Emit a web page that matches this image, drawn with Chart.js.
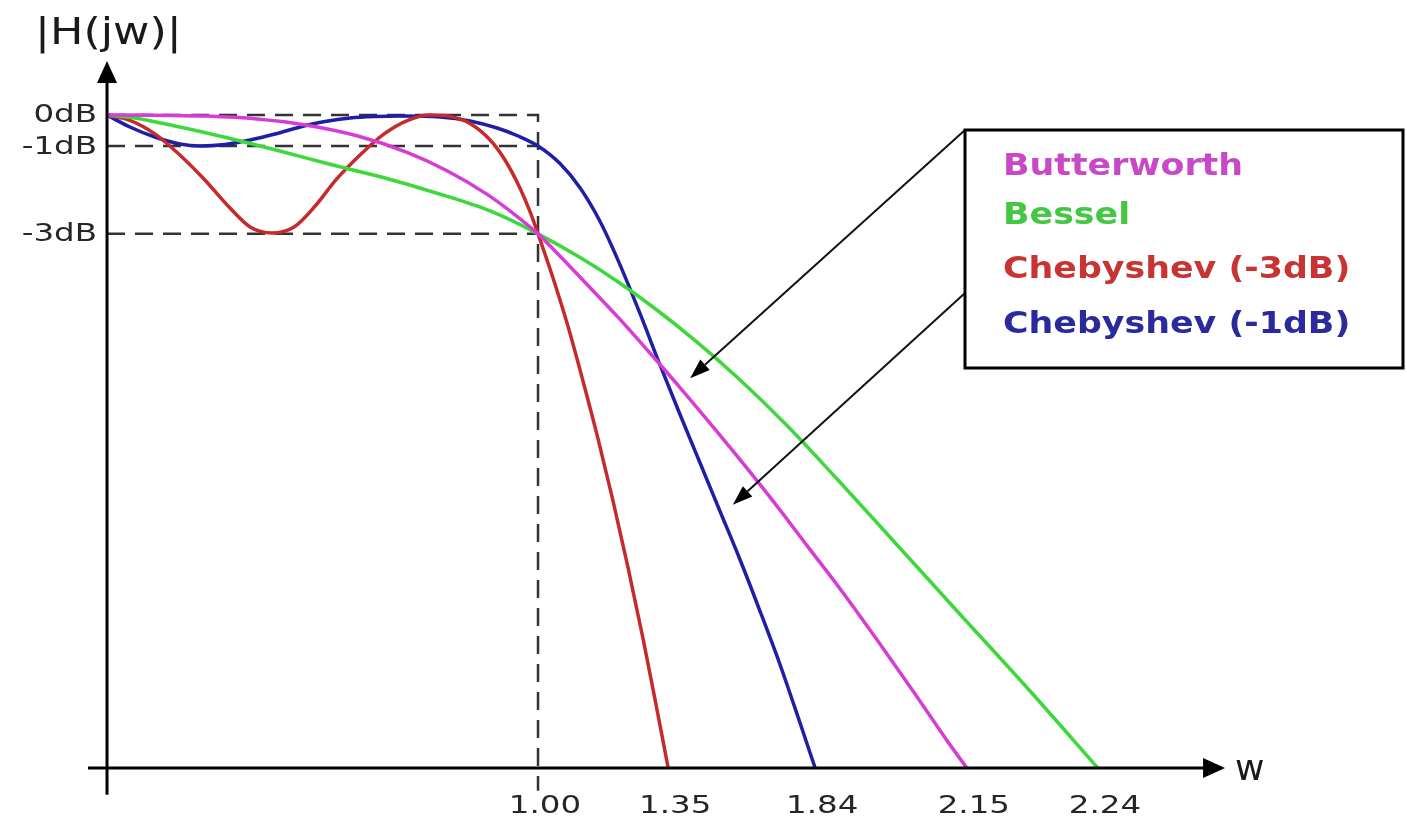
<!DOCTYPE html>
<html><head><meta charset="utf-8">
<script src="https://cdn.jsdelivr.net/npm/chart.js@4.4.1/dist/chart.umd.min.js"></script>
<style>html,body{margin:0;padding:0;background:#fff;overflow:hidden}#wrap{width:1407px;height:835px;position:relative}</style>
</head><body><div id="wrap"><canvas id="c"></canvas></div>
<script>
// ---- data (normalised frequency w, normalised magnitude |H|) ----
const wTicks = [1.000, 1.302, 1.643, 1.995, 2.299];
const wTickLabels = ['1.00', '1.35', '1.84', '2.15', '2.24'];
const magTicks = [1.0, 0.9525, 0.818];
const magTickLabels = ['0dB', '-1dB', '-3dB'];
const seriesNames = ['Butterworth', 'Bessel', 'Chebyshev (-3dB)', 'Chebyshev (-1dB)'];

const butterworth = [[0,1.0],[0.116,0.9998],[0.232,0.9983],[0.348,0.9938],[0.464,0.9844],[0.580,0.9682],[0.696,0.9429],[0.789,0.9147],[0.882,0.8784],[0.951,0.8449],[1.000,0.818],[1.058,0.779],[1.116,0.739],[1.186,0.690],[1.255,0.639],[1.325,0.586],[1.394,0.532],[1.464,0.476],[1.545,0.409],[1.626,0.339],[1.708,0.268],[1.789,0.194],[1.870,0.118],[1.951,0.040],[1.995,0]];
const bessel = [[0,1.0],[0.065,0.9954],[0.169,0.9816],[0.281,0.9648],[0.401,0.9449],[0.524,0.9234],[0.645,0.9035],[0.756,0.8821],[0.889,0.8530],[1.000,0.818],[1.093,0.7835],[1.186,0.7443],[1.278,0.7002],[1.371,0.6511],[1.464,0.5972],[1.580,0.5230],[1.696,0.4410],[1.840,0.3366],[1.979,0.2355],[2.142,0.1176],[2.299,0]];
const cheby3 = [[0,1.0],[0.053,0.9919],[0.111,0.9711],[0.169,0.9387],[0.227,0.9005],[0.281,0.8606],[0.332,0.8285],[0.383,0.8193],[0.434,0.8285],[0.483,0.8606],[0.531,0.9005],[0.587,0.9387],[0.643,0.9711],[0.698,0.9919],[0.749,1.0],[0.796,0.9979],[0.842,0.9870],[0.889,0.9617],[0.923,0.9314],[0.958,0.8882],[0.981,0.8527],[1.000,0.818],[1.035,0.7499],[1.070,0.6752],[1.104,0.5934],[1.139,0.5047],[1.174,0.4092],[1.209,0.3066],[1.244,0.1969],[1.274,0.0965],[1.302,0]];
const cheby1 = [[0,1.0],[0.053,0.9816],[0.111,0.9663],[0.169,0.9556],[0.216,0.9525],[0.274,0.9548],[0.332,0.9617],[0.390,0.9709],[0.448,0.9816],[0.506,0.9900],[0.564,0.9954],[0.622,0.9977],[0.680,0.9985],[0.773,0.9969],[0.842,0.9908],[0.905,0.9801],[0.954,0.9678],[1.000,0.9525],[1.051,0.9256],[1.097,0.8888],[1.144,0.8368],[1.190,0.7709],[1.237,0.6953],[1.283,0.6172],[1.329,0.5421],[1.376,0.4671],[1.422,0.3936],[1.469,0.3185],[1.515,0.2404],[1.561,0.1593],[1.608,0.0689],[1.643,0]];
// arrow tips pointing from the legend box (data units)
const arrowTips = [[1.353, 0.597], [1.452, 0.403]];

const seriesData = [butterworth, bessel, cheby3, cheby1];
const seriesColors = ['#d63cd6', '#3cd83c', '#c62a2a', '#1f1fa6'];
const textColors = ['#c848c8', '#44c844', '#c83434', '#2a2a9c'];

const toXY = arr => arr.map(p => ({x: p[0], y: p[1]}));

const datasets = seriesData.map((d, i) => ({
  label: seriesNames[i], data: toXY(d), borderColor: seriesColors[i],
  borderWidth: 3.5, pointRadius: 0, fill: false, cubicInterpolationMode: 'monotone', order: 1
}));
// dashed reference lines
magTicks.forEach((v, i) => {
  const pts = [{x: 0, y: v}, {x: wTicks[0], y: v}];
  if (i === 0) pts.push({x: wTicks[0], y: -0.035});
  datasets.push({label: 'ref' + i, data: pts, borderColor: '#333', borderWidth: 2.5,
    borderDash: [18, 10], pointRadius: 0, fill: false, tension: 0, order: 10, isRef: true});
});

function sText(ctx, txt, x, y, sx, align) {
  ctx.save(); ctx.translate(x, y); ctx.scale(sx, 1); ctx.textAlign = align; ctx.fillText(txt, 0, 0); ctx.restore();
}
function arrowHead(ctx, x0, y0, x1, y1, len, half) {
  const a = Math.atan2(y1 - y0, x1 - x0);
  const bx = x1 - len * Math.cos(a), by = y1 - len * Math.sin(a);
  ctx.beginPath(); ctx.moveTo(x0, y0); ctx.lineTo(bx, by); ctx.stroke();
  ctx.beginPath(); ctx.moveTo(x1, y1);
  ctx.lineTo(bx + half * Math.sin(a), by - half * Math.cos(a));
  ctx.lineTo(bx - half * Math.sin(a), by + half * Math.cos(a));
  ctx.closePath(); ctx.fill();
}

const overlay = {
  id: 'overlay',
  afterDatasetsDraw(chart) {
    const ctx = chart.ctx, xs = chart.scales.x, ys = chart.scales.y;
    const ax = xs.getPixelForValue(0), ay = ys.getPixelForValue(0);
    ctx.save();
    ctx.fillStyle = '#000'; ctx.strokeStyle = '#000'; ctx.lineWidth = 3;
    // y axis
    const yTop = ys.getPixelForValue(1.0827), yBot = ys.getPixelForValue(-0.041);
    arrowHead(ctx, ax, yBot, ax, yTop, 22, 10);
    // x axis
    const xL = xs.getPixelForValue(-0.044), xR = xs.getPixelForValue(2.594);
    arrowHead(ctx, xL, ay, xR, ay, 22, 10);
    // tick labels
    ctx.fillStyle = '#262626'; ctx.font = '25px "DejaVu Sans"'; ctx.textBaseline = 'middle';
    magTicks.forEach((v, i) => sText(ctx, magTickLabels[i], ax - 10, ys.getPixelForValue(v) + 1, 1.3, 'right'));
    wTicks.forEach((v, i) => sText(ctx, wTickLabels[i], xs.getPixelForValue(v) + 7, ay + 38, 1.3, 'center'));
    // axis titles
    ctx.fillStyle = '#1a1a1a'; ctx.textBaseline = 'alphabetic';
    ctx.font = '38px "DejaVu Sans"';
    sText(ctx, '|H(jw)|', 35, 44, 1.17, 'left');
    ctx.font = '36px "DejaVu Sans"';
    sText(ctx, 'w', xR + 10, ay + 12, 1.0, 'left');
    // legend box + arrows
    const bx = 965, by = 130, bw = 438, bh = 238;
    ctx.lineWidth = 2; ctx.fillStyle = '#000'; ctx.strokeStyle = '#111';
    const tails = [[bx, by], [bx, 293]];
    arrowTips.forEach((t, i) => arrowHead(ctx, tails[i][0], tails[i][1], xs.getPixelForValue(t[0]), ys.getPixelForValue(t[1]), 20, 7));
    ctx.fillStyle = '#fff'; ctx.fillRect(bx, by, bw, bh);
    ctx.lineWidth = 3; ctx.strokeStyle = '#000'; ctx.strokeRect(bx, by, bw, bh);
    ctx.font = 'bold 30px "DejaVu Sans"';
    const baselines = [175, 224, 278, 333];
    chart.data.datasets.filter(d => !d.isRef).forEach((d, i) => {
      ctx.fillStyle = textColors[i];
      sText(ctx, d.label, 1003, baselines[i], 1.16, 'left');
    });
    ctx.restore();
  }
};

new Chart(document.getElementById('c'), {
  type: 'line',
  data: {datasets},
  options: {
    responsive: true, maintainAspectRatio: false, animation: false, devicePixelRatio: 1,
    layout: {padding: 0},
    scales: {
      x: {type: 'linear', min: -0.2483, max: 3.0162, display: false},
      y: {type: 'linear', min: -0.1026, max: 1.1761, display: false}
    },
    plugins: {legend: {display: false}, tooltip: {enabled: false}}
  },
  plugins: [overlay]
});
</script></body></html>
